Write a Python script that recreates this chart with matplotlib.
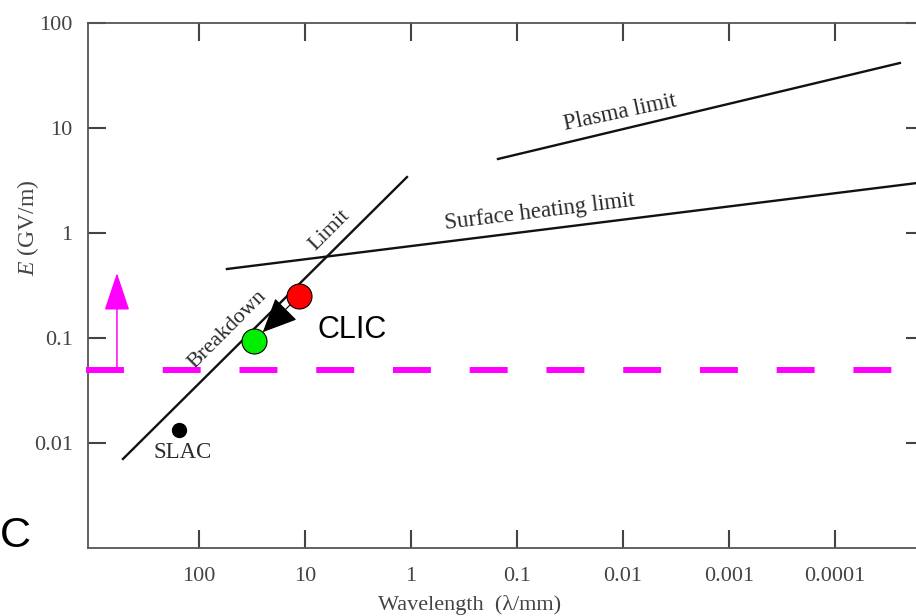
import matplotlib

matplotlib.use("Agg")

import matplotlib.pyplot as plt

plt.rcParams["mathtext.fontset"] = "custom"
plt.rcParams["mathtext.rm"] = "Liberation Serif"
plt.rcParams["mathtext.it"] = "Liberation Serif:italic"

# limits (wavelength in mm, field in GV/m)
breakdown_wl = [521, 1.09]
breakdown_e = [0.00705, 3.41]
surface_wl = [54.5, 1.445e-5]
surface_e = [0.454, 3.05]
plasma_wl = [0.151, 2.44e-5]
plasma_e = [5.07, 41.6]

slac_wl = [154.5]
slac_e = [0.0133]

clic_old = (11.4, 0.251)
clic_new = (30.3, 0.0936)

target_wl = [1164, 2.66e-5]
target_e = [0.05, 0.05]
target_arrow_wl = 594
target_arrow_top = 0.416

x_ticks = [100, 10, 1, 0.1, 0.01, 0.001, 0.0001]
x_tick_labels = ["100", "10", "1", "0.1", "0.01", "0.001", "0.0001"]
y_ticks = [0.01, 0.1, 1, 10, 100]
y_tick_labels = ["0.01", "0.1", "1", "10", "100"]

serif = "Liberation Serif"
sans = "Liberation Sans"
ink = "#2a2a2a"
magenta = "#ff00ff"

W, H = 916, 616
fig = plt.figure(figsize=(W / 100, H / 100), dpi=100)
ax = fig.add_axes([88 / W, 68 / H, 836 / W, 525 / H])
ax.set_xscale("log")
ax.set_yscale("log")
ax.set_xlim(1114, 1.445e-5)
ax.set_ylim(0.001, 100)

ax.set_xticks(x_ticks)
ax.set_xticklabels(x_tick_labels)
ax.set_yticks(y_ticks)
ax.set_yticklabels(y_tick_labels)
ax.minorticks_off()
ax.tick_params(which="major", direction="in", length=13, width=1.5, color="#444444",
               top=True, right=True, labelsize=16, labelcolor="#444444", pad=11)
ax.tick_params(axis="x", pad=14)
for lbl in ax.get_xticklabels() + ax.get_yticklabels():
    lbl.set_family(serif)
for sp in ax.spines.values():
    sp.set_color("#555555")
    sp.set_linewidth(1.3)

ax.plot(breakdown_wl, breakdown_e, color="#111111", lw=1.7)
ax.plot(surface_wl, surface_e, color="#111111", lw=1.7)
ax.plot(plasma_wl, plasma_e, color="#111111", lw=1.7)

ax.plot(slac_wl, slac_e, "o", color="black", ms=10)
ax.text(144, 0.0082, "SLAC", family=serif, fontsize=16.5, color=ink, ha="center", va="center")

ax.text(0.01067, 13.9, "Plasma limit", family=serif, fontsize=16.5, color=ink,
        ha="center", va="center", rotation=12, rotation_mode="anchor")
ax.text(0.0607, 1.585, "Surface heating limit", family=serif, fontsize=16.5, color=ink,
        ha="center", va="center", rotation=7, rotation_mode="anchor")
ax.text(5.8, 1.07, "Limit", family=serif, fontsize=16, color=ink,
        ha="center", va="center", rotation=45, rotation_mode="anchor")
ax.text(54.5, 0.119, "Breakdown", family=serif, fontsize=16, color=ink,
        ha="center", va="center", rotation=45, rotation_mode="anchor")

# target gradient line and arrow
ax.plot(target_wl, target_e, color=magenta, lw=4.3, dashes=(6.35, 6.5),
        solid_capstyle="butt", clip_on=False, zorder=3)
ax.annotate("", xy=(target_arrow_wl, target_arrow_top), xytext=(target_arrow_wl, target_e[0]),
            arrowprops=dict(arrowstyle="-|>,head_length=1.2,head_width=0.4", mutation_scale=20,
                            color=magenta, lw=1.1, shrinkA=0, shrinkB=0))

# CLIC move
ax.annotate("", xy=clic_new, xytext=clic_old,
            arrowprops=dict(arrowstyle="-|>,head_length=1.1,head_width=0.5", mutation_scale=20,
                            color="black", lw=0.8, shrinkA=9, shrinkB=9), zorder=4)
ax.plot([clic_old[0]], [clic_old[1]], "o", ms=18, mfc="#ff0000", mec="black", mew=0.8, zorder=5)
ax.plot([clic_new[0]], [clic_new[1]], "o", ms=18, mfc="#00ee00", mec="black", mew=0.8, zorder=5)
ax.text(3.6, 0.119, "CLIC", family=sans, fontsize=22, color="black", ha="center", va="center")

fig.text(470 / W, 1 - 605 / H, "Wavelength  (λ/mm)", family=serif, fontsize=16,
         color="#444444", ha="center", va="center")
fig.text(28 / W, 1 - 228 / H, "$E$ (GV/m)", family=serif, fontsize=17, color="#444444",
         ha="center", va="center", rotation=90)
fig.text(0, 1 - 536 / H, "C", family=sans, fontsize=31, color="black", ha="left", va="center")

fig.savefig("out.png", dpi=100)
